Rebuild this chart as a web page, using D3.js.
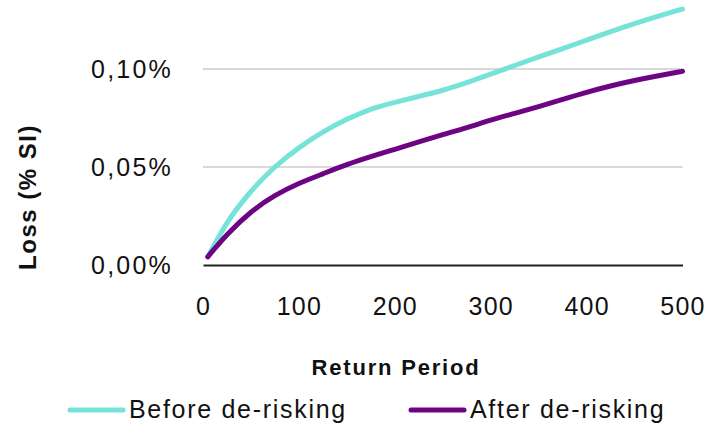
<!DOCTYPE html>
<html><head><meta charset="utf-8">
<script src="https://cdn.jsdelivr.net/npm/d3@7"></script>
<style>
html,body{margin:0;padding:0;background:#fff;}
svg{display:block;font-family:"Liberation Sans",Arial,sans-serif;}
</style></head>
<body>
<svg id="chart" width="718" height="431"></svg>
<script>
const returnPeriods = [5, 25, 50, 75, 100, 125, 150, 175, 200, 225, 250, 275, 300, 325, 350, 375, 400, 425, 450, 475, 500];
const beforeDerisking = [0.0042, 0.0225, 0.0380, 0.0505, 0.0600, 0.0680, 0.0745, 0.0798, 0.0830, 0.0860, 0.0890, 0.0930, 0.0973, 0.1018, 0.1062, 0.1103, 0.1148, 0.1190, 0.1232, 0.1270, 0.1306];
const afterDerisking  = [0.0042, 0.0158, 0.0275, 0.0357, 0.0418, 0.0465, 0.0513, 0.0553, 0.0590, 0.0628, 0.0665, 0.0700, 0.0740, 0.0773, 0.0808, 0.0845, 0.0882, 0.0914, 0.0942, 0.0966, 0.0988];
const xTicks = [0, 100, 200, 300, 400, 500];
const yTicks = [0, 0.05, 0.10];
const seriesNames = ["Before de-risking", "After de-risking"];
const seriesColors = ["#76E3D8", "#6C0484"];
const xTitle = "Return Period";
const yTitle = "Loss (% SI)";

const svg = d3.select("#chart");
const x = d3.scaleLinear().domain([0, 500]).range([203, 682.5]);
const y = d3.scaleLinear().domain([0, 0.10]).range([265, 69]);
const loc = d3.formatLocale({decimal: ",", thousands: ".", grouping: [3], currency: ["", "€"]});
const fmt = v => loc.format(".2f")(v) + "%";

// gridlines
svg.append("g").selectAll("line").data(yTicks.filter(d => d > 0)).join("line")
  .attr("x1", x(0)).attr("x2", x(500))
  .attr("y1", d => y(d)).attr("y2", d => y(d))
  .attr("stroke", "#d9d9d9").attr("stroke-width", 2);

// y axis labels
const yAxis = svg.append("g").attr("transform", `translate(${x(0)},0)`)
  .call(d3.axisLeft(y).tickValues(yTicks).tickFormat(fmt).tickSize(0).tickPadding(30));
yAxis.select(".domain").remove();
yAxis.selectAll("text").attr("font-size", 25).attr("fill", "#111")
  .attr("font-family", "Liberation Sans, Arial, sans-serif")
  .style("letter-spacing", "2.2px").attr("dy", "0.35em");

// x axis
const xAxis = svg.append("g").attr("transform", `translate(0,${y(0)})`)
  .call(d3.axisBottom(x).tickValues(xTicks).tickFormat(d3.format("d")).tickSize(0).tickPadding(50));
xAxis.select(".domain").attr("stroke", "#222").attr("stroke-width", 2);
xAxis.selectAll("text").attr("font-size", 25).attr("fill", "#111")
  .attr("font-family", "Liberation Sans, Arial, sans-serif")
  .style("letter-spacing", "1.2px").attr("dy", "0");

// titles
svg.append("text").attr("x", 396).attr("y", 375).attr("text-anchor", "middle")
  .attr("font-size", 22).attr("font-weight", "bold").style("letter-spacing", "1.8px")
  .attr("fill", "#111").text(xTitle);
svg.append("text").attr("transform", "translate(36,197) rotate(-90)").attr("text-anchor", "middle")
  .attr("font-size", 24).attr("font-weight", "bold").style("letter-spacing", "1.5px")
  .attr("fill", "#111").text(yTitle);

// lines
const line = d3.line().x(d => x(d[0])).y(d => y(d[1])).curve(d3.curveBasis);
[beforeDerisking, afterDerisking].forEach((vals, i) => {
  svg.append("path")
    .datum(returnPeriods.map((rp, j) => [rp, vals[j]]))
    .attr("d", line).attr("fill", "none")
    .attr("stroke", seriesColors[i]).attr("stroke-width", 5)
    .attr("stroke-linecap", "round").attr("stroke-linejoin", "round");
});

// legend
const legendX = [70, 411];
seriesNames.forEach((name, i) => {
  const g = svg.append("g").attr("transform", `translate(${legendX[i]},410)`);
  g.append("line").attr("x1", 0).attr("x2", 53).attr("y1", 0).attr("y2", 0)
    .attr("stroke", seriesColors[i]).attr("stroke-width", 5).attr("stroke-linecap", "round");
  g.append("text").attr("x", 59).attr("y", 8).attr("font-size", 25)
    .style("letter-spacing", "1.7px").attr("fill", "#111").text(name);
});
</script>
</body></html>
